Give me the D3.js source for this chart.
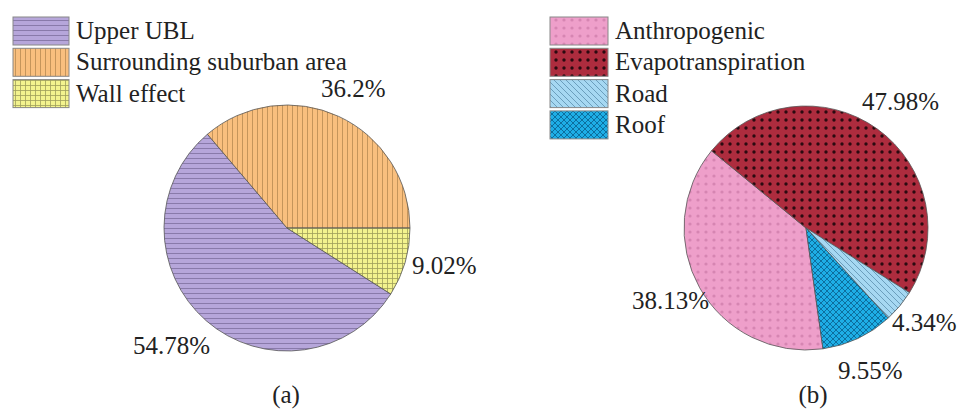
<!DOCTYPE html>
<meta charset="utf-8">
<script src="https://d3js.org/d3.v7.min.js"></script>
<style>
  body { margin: 0; background: #fff; }
</style>
<div id="chart"></div>
<script>

// data for panel (a)
var catsA = ["Upper UBL", "Surrounding suburban area", "Wall effect"];
var valsA = [54.78, 36.2, 9.02];
var labelsA = ["54.78%", "36.2%", "9.02%"];

// data for panel (b)
var catsB = ["Anthropogenic", "Evapotranspiration", "Road", "Roof"];
var valsB = [38.13, 47.98, 4.34, 9.55];
var labelsB = ["38.13%", "47.98%", "4.34%", "9.55%"];

var width = 957, height = 412;

var svg = d3.select("#chart")
  .append("svg")
    .attr("width", width)
    .attr("height", height)
    .style("font-family", "Liberation Serif");

var defs = svg.append("defs");

// hatch patterns
function hatch(id, bg, fg, size, draw) {
  var p = defs.append("pattern")
    .attr("id", id)
    .attr("patternUnits", "userSpaceOnUse")
    .attr("width", size)
    .attr("height", size);
  p.append("rect").attr("width", size).attr("height", size).attr("fill", bg);
  draw(p, fg, size);
}

hatch("pUpper", "#b6a6da", "#7e6e9e", 5, function(p, c, s) {
  p.append("line").attr("x1", 0).attr("x2", s).attr("y1", 0.5).attr("y2", 0.5)
    .attr("stroke", c).attr("stroke-width", 0.8);
});
hatch("pSub", "#f9bf7e", "#b88a52", 5, function(p, c, s) {
  p.append("line").attr("y1", 0).attr("y2", s).attr("x1", 0.5).attr("x2", 0.5)
    .attr("stroke", c).attr("stroke-width", 0.8);
});
hatch("pWall", "#f3f38e", "#9e9e5a", 5, function(p, c, s) {
  p.append("line").attr("y1", 0).attr("y2", s).attr("x1", 0.5).attr("x2", 0.5)
    .attr("stroke", c).attr("stroke-width", 0.8);
  p.append("line").attr("x1", 0).attr("x2", s).attr("y1", 0.5).attr("y2", 0.5)
    .attr("stroke", c).attr("stroke-width", 0.8);
});
hatch("pAnth", "#ee9fca", "#d685b2", 8, function(p, c, s) {
  p.append("circle").attr("cx", s / 2).attr("cy", s / 2).attr("r", 1.6).attr("fill", c);
});
hatch("pEvap", "#ad2c3e", "#2a0a10", 8, function(p, c, s) {
  p.append("circle").attr("cx", s / 2).attr("cy", s / 2).attr("r", 1.7).attr("fill", c);
});
hatch("pRoad", "#a6d8f2", "#5c8fae", 6, function(p, c, s) {
  p.append("path").attr("d", "M0,0L" + s + "," + s + "M-1," + (s - 1) + "L1," + (s + 1) + "M" + (s - 1) + ",-1L" + (s + 1) + ",1")
    .attr("stroke", c).attr("stroke-width", 0.8);
});
hatch("pRoof", "#1eaee6", "#0d6f9e", 6, function(p, c, s) {
  p.append("path").attr("d", "M0,0L" + s + "," + s + "M" + s + ",0L0," + s)
    .attr("stroke", c).attr("stroke-width", 1);
});

var fillsA = ["url(#pUpper)", "url(#pSub)", "url(#pWall)"];
var fillsB = ["url(#pAnth)", "url(#pEvap)", "url(#pRoad)", "url(#pRoof)"];

var arc = d3.arc().innerRadius(0);

function drawPie(cx, cy, r, vals, fills, start, labels, labelPos) {
  var pie = d3.pie().sort(null).value(d => d)
    .startAngle(start).endAngle(start + 2 * Math.PI);
  var g = svg.append("g").attr("transform", "translate(" + cx + "," + cy + ")");
  g.selectAll("path")
    .data(pie(vals))
    .enter()
    .append("path")
      .attr("d", arc.outerRadius(r))
      .attr("fill", (d, i) => fills[i])
      .attr("stroke", "#555")
      .attr("stroke-width", 0.8);
  labels.forEach(function(t, i) {
    svg.append("text")
      .attr("x", labelPos[i][0])
      .attr("y", labelPos[i][1])
      .attr("font-size", 25)
      .attr("fill", "#222")
      .text(t);
  });
}

function drawLegend(x, y, cats, fills, sw) {
  cats.forEach(function(c, i) {
    var yy = y + i * 31.3;
    svg.append("rect")
      .attr("x", x).attr("y", yy)
      .attr("width", sw).attr("height", 28)
      .attr("fill", fills[i])
      .attr("stroke", "#888")
      .attr("stroke-width", 1);
    svg.append("text")
      .attr("x", x + sw + 7)
      .attr("y", yy + 22)
      .attr("font-size", 25)
      .attr("fill", "#222")
      .text(c);
  });
}

// panel (a): Wall effect slice ends at 3 o'clock
var startA = Math.PI / 2 + 2 * Math.PI * valsA[2] / d3.sum(valsA) - 2 * Math.PI;
drawPie(287, 228, 123, valsA, fillsA, startA, labelsA,
  [[133, 354], [321, 97], [412, 274]]);
drawLegend(13, 17, catsA, fillsA, 56);

// panel (b)
var startB = 172 * Math.PI / 180;
drawPie(806, 228, 122, valsB, fillsB, startB, labelsB,
  [[632, 309], [862, 110], [892, 331], [838, 379]]);
drawLegend(550, 17, catsB, fillsB, 58);

svg.append("text").attr("x", 286).attr("y", 403).attr("text-anchor", "middle")
  .attr("font-size", 25).attr("fill", "#222").text("(a)");
svg.append("text").attr("x", 813).attr("y", 403).attr("text-anchor", "middle")
  .attr("font-size", 25).attr("fill", "#222").text("(b)");

</script>
